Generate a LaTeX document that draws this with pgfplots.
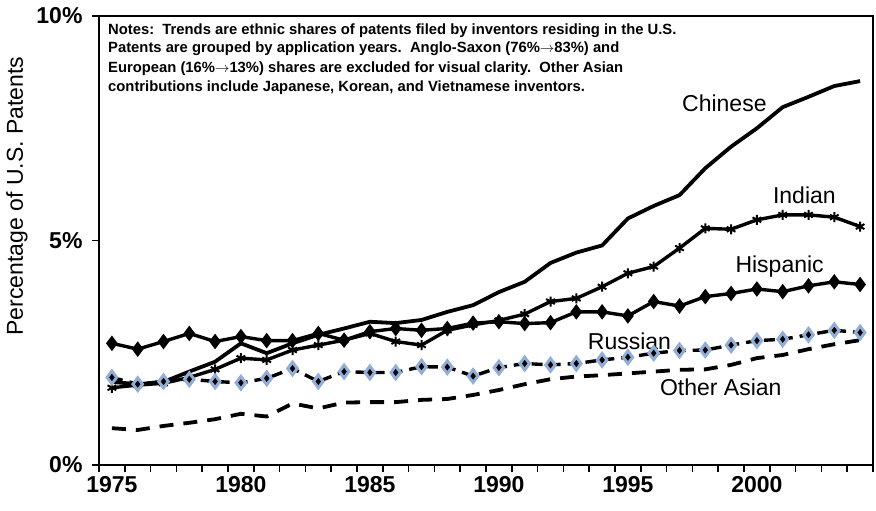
\documentclass[border=0pt]{standalone}
\usepackage{pgfplots}
\usepackage{pgfplotstable}
\pgfplotsset{compat=1.18}
\usepackage{fontspec}
\setmainfont{Liberation Sans}
\definecolor{rusblue}{RGB}{146,174,214}
\pgfplotstableread{
year Chinese Indian Hispanic Russian OtherAsian
1975 1.85 1.72 2.71 1.95 0.82
1976 1.80 1.78 2.58 1.80 0.78
1977 1.85 1.82 2.75 1.86 0.87
1978 2.08 1.95 2.93 1.91 0.94
1979 2.30 2.13 2.75 1.86 1.02
1980 2.71 2.38 2.86 1.83 1.14
1981 2.49 2.34 2.77 1.93 1.08
1982 2.71 2.56 2.77 2.15 1.37
1983 2.90 2.67 2.93 1.86 1.26
1984 3.04 2.78 2.78 2.08 1.39
1985 3.19 2.93 2.97 2.06 1.40
1986 3.16 2.75 3.04 2.06 1.40
1987 3.23 2.67 3.00 2.19 1.45
1988 3.41 3.00 3.04 2.18 1.47
1989 3.56 3.12 3.16 1.98 1.56
1990 3.85 3.22 3.19 2.17 1.67
1991 4.08 3.36 3.15 2.26 1.80
1992 4.50 3.64 3.17 2.23 1.91
1993 4.73 3.71 3.41 2.26 1.97
1994 4.89 3.97 3.41 2.34 2.00
1995 5.49 4.27 3.32 2.40 2.04
1996 5.77 4.42 3.64 2.49 2.08
1997 6.01 4.83 3.54 2.55 2.12
1998 6.61 5.27 3.75 2.56 2.13
1999 7.09 5.25 3.82 2.67 2.23
2000 7.50 5.46 3.92 2.77 2.38
2001 7.97 5.57 3.86 2.80 2.45
2002 8.20 5.57 3.99 2.90 2.58
2003 8.44 5.52 4.08 3.00 2.69
2004 8.55 5.31 4.02 2.95 2.78
}\datatable
\begin{document}
\begin{tikzpicture}[x=1pt,y=1pt]
\useasboundingbox (0,0) rectangle (876,511);
\begin{axis}[
  at={(99pt,46pt)}, anchor=south west,
  scale only axis, width=774pt, height=449pt,
  xmin=1974.5, xmax=2004.5, ymin=0, ymax=10,
  axis line style={line width=1.8pt},
  xtick={1974.5,1975.5,...,2004.5},
  xticklabels={},
  extra x ticks={1975,1980,1985,1990,1995,2000},
  extra x tick labels={1975,1980,1985,1990,1995,2000},
  extra x tick style={major tick length=0pt, xticklabel style={yshift=-8pt}},
  ytick={0,5,10},
  yticklabels={0\%,5\%,10\%},
  tick pos=left, tick align=outside,
  major tick length=7pt,
  tick style={line width=1.5pt, black},
  every tick label/.append style={font=\bfseries\fontsize{23}{23}\selectfont},
  /pgf/number format/assume math mode=true,
  yticklabel style={xshift=-6pt},
  clip=false,
]
\addplot[line width=3.8pt, black, line join=round] table[x=year,y=Chinese]{\datatable};
\addplot[line width=3.4pt, black, mark=asterisk, mark size=5pt, mark options={line width=2pt, solid}] table[x=year,y=Indian]{\datatable};
\addplot[line width=3.4pt, black, mark=diamond*, mark size=5pt, mark options={solid}] table[x=year,y=Hispanic]{\datatable};
\addplot[line width=3.4pt, black, dash pattern=on 11pt off 7pt, mark=diamond*, mark size=6pt, mark options={solid, fill=rusblue, draw=rusblue}] table[x=year,y=Russian]{\datatable};
\addplot[only marks, black, mark=diamond*, mark size=3.2pt] table[x=year,y=Russian]{\datatable};
\addplot[line width=3.8pt, black, dash pattern=on 14pt off 10pt] table[x=year,y=OtherAsian]{\datatable};
\node[font=\fontsize{23}{23}\selectfont] at (axis cs:1998.74,8.06) {Chinese};
\node[font=\fontsize{23}{23}\selectfont] at (axis cs:2001.84,6.01) {Indian};
\node[font=\fontsize{23}{23}\selectfont] at (axis cs:2000.88,4.42) {Hispanic};
\node[font=\fontsize{23}{23}\selectfont] at (axis cs:1995.06,2.75) {Russian};
\node[font=\fontsize{23}{23}\selectfont] at (axis cs:1998.6,1.73) {Other Asian};
\end{axis}
\node[rotate=90, font=\fontsize{23}{23}\selectfont] at (17,315) {Percentage of U.S. Patents};
\begin{scope}[every node/.style={anchor=base west, inner sep=0pt, font=\bfseries\fontsize{14.8}{14.8}\selectfont}]
\node at (108,476) {Notes:\ \ Trends are ethnic shares of patents filed by inventors residing in the U.S.};
\node at (108,458) {Patents are grouped by application years.\ \ Anglo-Saxon (76\%$\rightarrow$83\%) and};
\node at (108,438.5) {European (16\%$\rightarrow$13\%) shares are excluded for visual clarity.\ \ Other Asian};
\node at (108,419) {contributions include Japanese, Korean, and Vietnamese inventors.};
\end{scope}
\end{tikzpicture}
\end{document}
